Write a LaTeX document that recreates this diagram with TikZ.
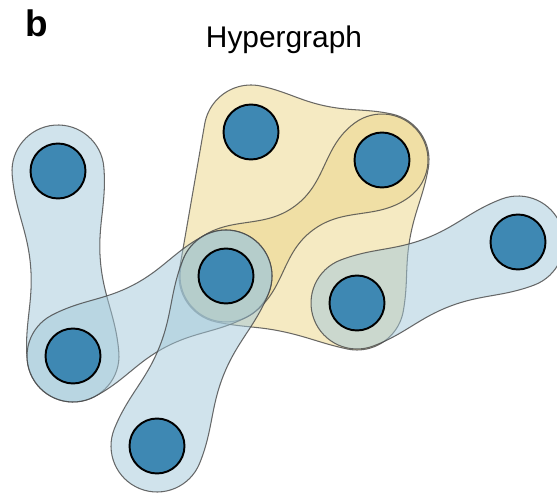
\documentclass[tikz,border=0pt]{standalone}
\usepackage{fontspec}
\setmainfont{Liberation Sans}
\usetikzlibrary{calc,backgrounds}

\definecolor{nodeblue}{RGB}{62,136,179}
\definecolor{edgeblue}{RGB}{162,200,217}
\definecolor{edgeyellow}{RGB}{236,214,138}
\definecolor{edgeline}{RGB}{70,70,70}

\tikzset{
  vertex/.style={circle, draw=black, line width=1.1pt, fill=nodeblue,
    minimum size=1.1cm, inner sep=0pt},
  blueedge/.style={fill=edgeblue, fill opacity=0.5, draw=edgeline,
    draw opacity=0.8, line width=0.6pt},
  yellowedge/.style={fill=edgeyellow, fill opacity=0.52, draw=edgeline,
    draw opacity=0.8, line width=0.6pt},
}

% two-vertex hyperedge: #2,#3 vertices, #4 cap radius, #5 waist
\newcommand{\hedge}[5][blueedge]{%
  \path[#1] let \p1=($(#3)-(#2)$), \n1={atan2(\y1,\x1)},
      \n2={\n1+90}, \n3={\n1-90}, \n4={\n1+180}, \n5={\n1+270} in
    ($(#2)+(\n2:#4)$) arc[start angle=\n2, end angle=\n5, radius=#4]
    to[out=\n1, in=\n4] ($(#2)!0.5!(#3)+(\n3:#5)$)
    to[out=\n1, in=\n4] ($(#3)+(\n3:#4)$)
    arc[start angle=\n3, end angle=\n2, radius=#4]
    to[out=\n4, in=\n1] ($(#2)!0.5!(#3)+(\n2:#5)$)
    to[out=\n4, in=\n1] ($(#2)+(\n2:#4)$) -- cycle;}

\begin{document}
\begin{tikzpicture}[x=0.02cm, y=0.02cm]
    \useasboundingbox (0,0) rectangle (557,493);

    \node (panel) [anchor=base west] at (19,456) {\fontsize{21}{24}\selectfont\bfseries b};
    \node (title) [anchor=base] at (284,445) {\fontsize{17}{20}\selectfont Hypergraph};

    \node[vertex] (v1) at (58,322) {};
    \node[vertex] (v2) at (73,137) {};
    \node[vertex] (v3) at (251,361) {};
    \node[vertex] (v4) at (382,333) {};
    \node[vertex] (v5) at (226,217) {};
    \node[vertex] (v6) at (357,190) {};
    \node[vertex] (v7) at (518,251) {};
    \node[vertex] (v8) at (157,47) {};

    \begin{scope}[on background layer]
        % big yellow edge
        \path[yellowedge] ($(v3)+(170:47)$) arc[start angle=170, end angle=78, radius=47]
            to[out=-12, in=168] ($(v3)!0.5!(v4)+(78:41)$)
            to[out=-12, in=168] ($(v4)+(78:47)$)
            arc[start angle=78, end angle=-10, radius=47]
            to[out=260, in=80] ($(v4)!0.5!(v6)+(-10:41)$)
            to[out=260, in=80] ($(v6)+(-10:47)$)
            arc[start angle=-10, end angle=-102, radius=47]
            to[out=168, in=-12] ($(v6)!0.5!(v5)+(-102:43)$)
            to[out=168, in=-12] ($(v5)+(-102:47)$)
            arc[start angle=258, end angle=170, radius=47] -- cycle;
        \hedge[yellowedge]{v4}{v5}{46}{15}
        \hedge{v1}{v2}{46}{35}
        \hedge{v2}{v5}{46}{35}
        \hedge{v5}{v8}{46}{35}
        \hedge{v6}{v7}{46}{36}
    \end{scope}
\end{tikzpicture}
\end{document}
